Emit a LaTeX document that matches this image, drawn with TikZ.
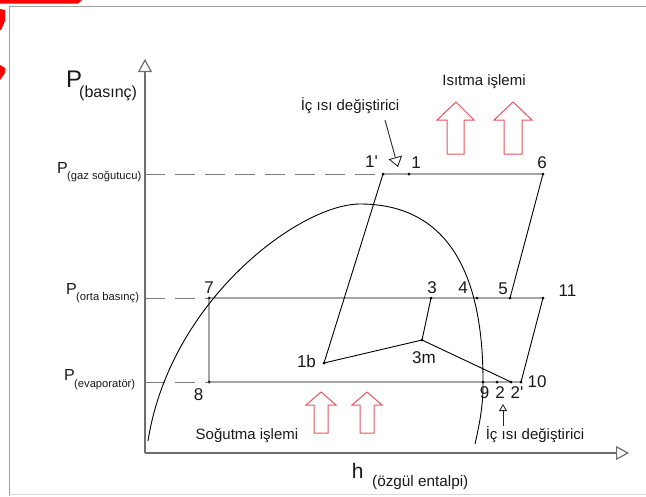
\documentclass[tikz,border=0pt]{standalone}
\usepackage{fontspec}
\setmainfont{Liberation Sans}[Ligatures=TeXOff]
\usetikzlibrary{arrows.meta}
\definecolor{axisgray}{RGB}{110,110,110}
\definecolor{dashgray}{RGB}{125,125,125}
\definecolor{arrred}{RGB}{230,85,95}
\definecolor{txt}{RGB}{25,25,25}
\begin{document}
\begin{tikzpicture}[x=1pt,y=-1pt,
  cycline/.style={black, line width=0.9pt},
  axisline/.style={axisgray, line width=1.4pt, -{Triangle[open,length=13pt,width=14pt,line width=1.2pt]}},
  dashline/.style={dashgray, line width=1pt, dash pattern=on 20pt off 10pt},
  dotpt/.style={circle, fill=black, inner sep=0pt, minimum size=3pt},
  num/.style={font=\fontsize{17}{17}\selectfont, inner sep=0pt, text=txt, anchor=base},
  lbl/.style={font=\fontsize{15}{15}\selectfont, inner sep=0pt, text=txt, anchor=base},
  bigP/.style={font=\fontsize{16}{16}\selectfont, inner sep=0pt, text=txt, anchor=base west},
  subP/.style={font=\fontsize{11.2}{11.2}\selectfont, inner sep=0pt, text=txt, anchor=base west},
  redarrow/.style={draw=arrred, line width=1pt, fill=white},
  hexarrow/.style={black!85, line width=0.9pt},
]
\useasboundingbox (0,0) rectangle (646,496);
% frame
\draw[gray!75, line width=1pt] (9,496) -- (9,6) -- (646,6);
\draw[gray!30, line width=1pt] (9,494.5) -- (646,494.5);
% red marks
\fill[red] (0,0) -- (82,0) -- (78,3.5) -- (0,3.5) -- cycle;
\fill[red] (0,9) -- (5,10) -- (5,21) -- (1,30) -- (0,30) -- cycle;
\fill[red] (0,65) -- (5,68) -- (5,73) -- (0,80) -- cycle;

% axes
\coordinate (O) at (145,453);
\coordinate (ytip) at (145,59);
\coordinate (xtip) at (629,453);
\draw[axisline] (O) -- (ytip);
\draw[axisline] (O) -- (xtip);

% axis labels
\node[font=\fontsize{24}{24}\selectfont, inner sep=0pt, text=txt, anchor=base west] (Plab) at (66,87) {P};
\node[font=\fontsize{16}{16}\selectfont, inner sep=0pt, text=txt, anchor=base west] (Psub) at (79,97) {(basınç)};
\node[font=\fontsize{21}{21}\selectfont, inner sep=0pt, text=txt, anchor=base west] (hlab) at (351.6,478) {h};
\node[font=\fontsize{15.3}{15.3}\selectfont, inner sep=0pt, text=txt, anchor=base west] (hsub) at (372,486.5) {(özgül entalpi)};

\node[bigP] (Pg) at (57,173) {P};
\node[subP] (Pgs) at (67,179) {(gaz soğutucu)};
\node[bigP] (Po) at (66,294) {P};
\node[subP] (Pos) at (76,300) {(orta basınç)};
\node[bigP] (Pe) at (64,380) {P};
\node[subP] (Pes) at (74,387) {(evaporatör)};

% state points
\node[dotpt] (p1p) at (383,174) {};
\node[dotpt] (p1) at (409,174) {};
\node[dotpt] (p6) at (543,174) {};
\node[dotpt] (p7) at (209,298) {};
\node[dotpt] (p3) at (431,298) {};
\node[dotpt] (p4) at (477,298) {};
\node[dotpt] (p5) at (510,298) {};
\node[dotpt] (p11) at (543,298) {};
\node[dotpt] (p3m) at (422,340) {};
\node[dotpt] (p1b) at (324,363) {};
\node[dotpt] (p8) at (209,382) {};
\node[dotpt] (p9) at (483,382) {};
\node[dotpt] (p2) at (497,382) {};
\node[dotpt] (p2p) at (511,382) {};
\node[dotpt] (p10) at (521,382) {};

% dashed pressure levels
\coordinate (yg) at (145,174);
\coordinate (yo) at (145,298);
\coordinate (ye) at (145,382);
\draw[dashline] (yg) -- (p1p.center);
\draw[dashline] (yo) -- (p7.center);
\draw[dashline] (ye) -- (p8.center);

% saturation dome
\draw[cycline] (148,441) .. controls (170,300) and (300,204) .. (360,204)
  .. controls (435,204) and (484,255) .. (483,385)
  .. controls (483,410) and (478,430) .. (475,444);

% cycle lines
\draw[cycline] (p1p.center) -- (p6.center) -- (p5.center);
\draw[cycline] (p7.center) -- (p11.center) -- (p10.center) -- (p8.center) -- (p7.center);
\draw[cycline] (p1p.center) -- (p1b.center) -- (p3m.center) -- (p3.center);
\draw[cycline] (p3m.center) -- (p2p.center);

% number labels
\node[num] (l1p) at (371.5,167) {1\textquotesingle};
\node[num] (l1) at (416,168) {1};
\node[num] (l6) at (542,168) {6};
\node[num] (l7) at (209,293) {7};
\node[num] (l8) at (198.5,400) {8};
\node[num] (l3) at (432,293) {3};
\node[num] (l4) at (463,293) {4};
\node[num] (l5) at (503,294) {5};
\node[num] (l11) at (567.5,296) {11};
\node[num] (l1b) at (306.5,367) {1b};
\node[num] (l3m) at (424,363) {3m};
\node[num] (l10) at (537,387) {10};
\node[num] (l9) at (484.7,398) {9};
\node[num] (l2) at (500,398) {2};
\node[num] (l2p) at (517,398) {2\textquotesingle};

% process texts
\node[lbl] (isitma) at (484,85) {Isıtma işlemi};
\node[lbl] (ic1) at (350,110) {İç ısı değiştirici};
\node[lbl] (sogutma) at (247,439) {Soğutma işlemi};
\node[lbl] (ic2) at (535,439) {İç ısı değiştirici};

% internal heat exchanger pointers
\coordinate (ia1) at (385,120);
\coordinate (ia1tip) at (398,167);
\draw[hexarrow, -{Triangle[open,length=10pt,width=14pt,line width=0.9pt]}] (ia1) -- (ia1tip);
\coordinate (ia2) at (503,426);
\coordinate (ia2tip) at (503,404);
\draw[hexarrow, -{Triangle[open,length=7pt,width=8pt,line width=0.9pt]}] (ia2) -- (ia2tip);

% red block arrows (heating)
\draw[redarrow] (456,102) -- (474,120) -- (464,120) -- (464,154) -- (447,154) -- (447,120) -- (437,120) -- cycle;
\draw[redarrow] (513,102) -- (532,120) -- (522,120) -- (522,154) -- (504,154) -- (504,120) -- (494,120) -- cycle;
% red block arrows (cooling)
\draw[redarrow] (321,392) -- (336,405) -- (328,405) -- (328,433) -- (314,433) -- (314,405) -- (306,405) -- cycle;
\draw[redarrow] (367,392) -- (382,405) -- (374,405) -- (374,433) -- (360,433) -- (360,405) -- (352,405) -- cycle;
\end{tikzpicture}
\end{document}
